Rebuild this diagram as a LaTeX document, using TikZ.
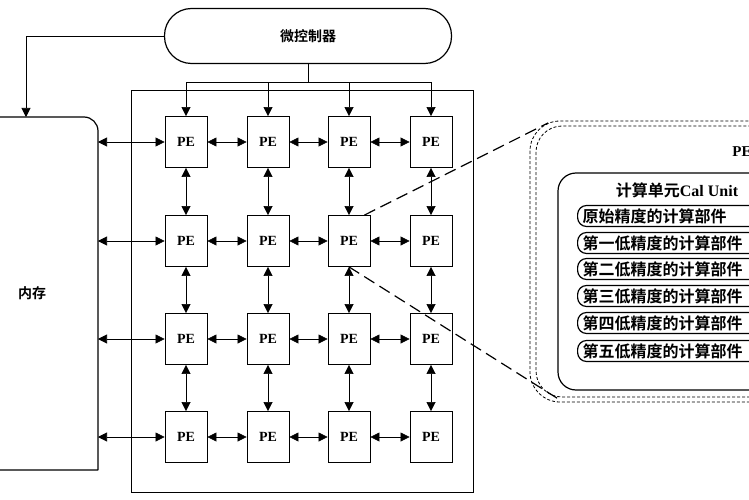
\documentclass[tikz,border=0pt]{standalone}
\usepackage{fontspec}
\setmainfont{Liberation Serif}
\newfontfamily\cjk{Noto Sans CJK SC}[BoldFont={* Bold}]
\usetikzlibrary{arrows.meta}

\begin{document}
\begin{tikzpicture}[x=1pt, y=-1pt, font=\bfseries\cjk\fontsize{14}{16}\selectfont,
    pe/.style={draw, thick, minimum width=42pt, minimum height=51pt, inner sep=0pt, font=\bfseries\rmfamily\fontsize{14}{16}\selectfont},
    link/.style={semithick, {Triangle[width=9pt,length=9pt]}-{Triangle[width=9pt,length=9pt]}},
    feed/.style={-{Triangle[width=9pt,length=9pt]}},
    part/.style={draw, very thick, rounded corners=9pt, minimum width=200pt, minimum height=21pt, inner sep=2pt, text width=190pt, align=left, font=\bfseries\cjk\fontsize{16}{18}\selectfont}]
            \useasboundingbox (0,0) rectangle (749,500);
            \clip (0,0) rectangle (749,500);

            \node[draw, very thick, rounded corners=27pt, minimum width=287pt, minimum height=55pt] (mcu) at (308,36) {微控制器};
            \draw[very thick, rounded corners=14pt] (98,470) -- (-20,470) -- (-20,117) -- (98,117) -- (98,470);
            \node (mem) at (32,293) {内存};
            \coordinate (memtop) at (26,117);
            \draw[semithick] (131,90) rectangle (473,492);

            % PE grid
            \foreach \r/\y in {1/142,2/241,3/339,4/437} {
                \foreach \c/\x in {1/186,2/268,3/349,4/431} {
                    \node[pe] (P\r\c) at (\x,\y) {PE};
                }
                \coordinate (M\r) at (98,\y);
                \draw[link] (M\r) -- (P\r1);
                \draw[link] (P\r1) -- (P\r2);
                \draw[link] (P\r2) -- (P\r3);
                \draw[link] (P\r3) -- (P\r4);
            }
            \foreach \c in {1,...,4} {
                \draw[link] (P1\c) -- (P2\c);
                \draw[link] (P2\c) -- (P3\c);
                \draw[link] (P3\c) -- (P4\c);
                \draw[semithick, feed] (P1\c.north) ++(0,-34) coordinate (F\c) -- (P1\c.north);
            }
            \draw[semithick] (mcu.south) -- (308,82);
            \draw[semithick] (F1) -- (F4);
            \draw[semithick, feed] (mcu.west) -| (memtop);

            % zoomed PE
            \draw[thick, densely dashed, rounded corners=30pt] (530,121) rectangle (800,402);
            \draw[thick, densely dashed, rounded corners=26pt] (536,126) rectangle (800,397);
            \draw[very thick, dash pattern=on 12pt off 6pt] (P23.north east) ++(-6,0) -- (548,123);
            \draw[very thick, dash pattern=on 12pt off 6pt] (P23.south) -- (560,400);
            \node[font=\bfseries\rmfamily\fontsize{15}{17}\selectfont] (pelbl) at (742,152) {PE};
            \draw[very thick, rounded corners=18pt] (558,173) rectangle (800,390);
            \node (unit) at (677,190) {\fontsize{16}{18}\selectfont 计算单元\rmfamily Cal Unit};
            \foreach \i/\t/\y in {0/原始精度的计算部件/216, 1/第一低精度的计算部件/243, 2/第二低精度的计算部件/269,
                                  3/第三低精度的计算部件/296, 4/第四低精度的计算部件/323, 5/第五低精度的计算部件/351} {
                \node[part, anchor=west] (C\i) at (577,\y) {\t};
            }
        \end{tikzpicture}
\end{document}
